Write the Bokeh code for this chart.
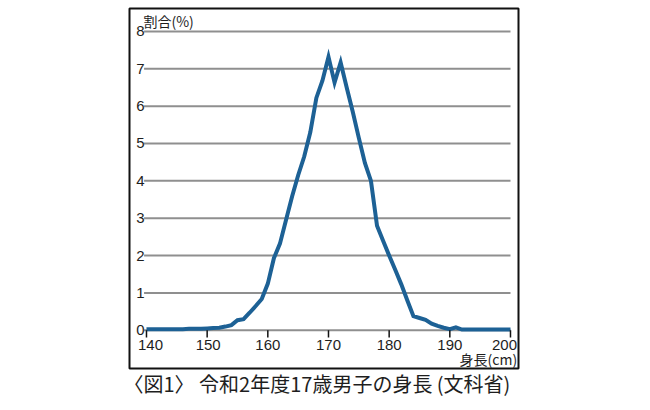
from bokeh.plotting import figure
from bokeh.models import Range1d
from bokeh.core.properties import value
from bokeh.embed import file_html
from bokeh.resources import INLINE

# data
heights = list(range(140, 201))
ratio = [0.03, 0.03, 0.03, 0.03, 0.03, 0.03, 0.03, 0.04, 0.04, 0.04,
         0.05, 0.06, 0.07, 0.10, 0.14, 0.27, 0.30, 0.47, 0.65, 0.84,
         1.25, 1.93, 2.32, 2.95, 3.58, 4.15, 4.65, 5.30, 6.22, 6.68,
         7.32, 6.63, 7.17, 6.50, 5.85, 5.15, 4.48, 4.00, 2.80, 2.40,
         2.00, 1.62, 1.23, 0.80, 0.38, 0.33, 0.28, 0.18, 0.12, 0.07,
         0.03, 0.08, 0.02, 0.02, 0.02, 0.02, 0.02, 0.02, 0.02, 0.02, 0.02]
x_ticks = [140, 150, 160, 170, 180, 190, 200]
y_ticks = [0, 1, 2, 3, 4, 5, 6, 7, 8]
title_text = "〈図1〉 令和2年度17歳男子の身長 (文科省)"
y_label = "割合(%)"
x_label = "身長(cm)"

JP = "Noto Sans CJK JP"
NUM = "Liberation Sans"
TXT = "#1e1e1e"

# frame = the outer black box; 6.067 px per cm, 37.36 px per %
p = figure(width=642, height=402, output_backend="svg", toolbar_location=None,
           x_range=Range1d(137.2, 201.32), y_range=Range1d(-1.022, 8.613),
           x_axis_location=None, y_axis_location=None,
           min_border_left=129, min_border_right=124, min_border_top=8,
           min_border_bottom=34)
p.background_fill_color = "white"
p.border_fill_color = "white"
p.outline_line_color = "#111111"
p.outline_line_width = 2
p.grid.visible = False

x0, x1 = x_ticks[0], x_ticks[-1]

# horizontal grid lines (with short tick stubs at the left)
p.segment(x0=[x0 - 0.4] * len(y_ticks), x1=[x1] * len(y_ticks),
          y0=y_ticks, y1=y_ticks, line_color="#8f8f8f", line_width=2)

# data line
p.line(heights, ratio, line_color="#1d6195", line_width=4, line_join="miter")

# x ticks
p.segment(x0=x_ticks, x1=x_ticks, y0=[0] * len(x_ticks),
          y1=[-0.19] * len(x_ticks), line_color="#111111", line_width=1.5)

# tick labels (end labels nudged inside the box)
x_nudge = [4, 1, 0, 0, 0, 0, -6]
p.text(x=x_ticks, y=[-0.27] * len(x_ticks), text=[str(t) for t in x_ticks],
       x_offset=x_nudge,
       text_font=value(NUM), text_font_size="15px", text_align="center",
       text_baseline="top", text_color=TXT)
p.text(x=[x0 - 0.3] * len(y_ticks), y=y_ticks, text=[str(t) for t in y_ticks],
       text_font=value(NUM), text_font_size="15px", text_align="right",
       text_baseline="middle", text_color=TXT)

# axis titles
p.text(x=[139.5], y=[8.29], text=[y_label], text_font=value(JP),
       text_font_size="14px", text_align="left", text_baseline="middle",
       text_color=TXT)
p.text(x=[201.1], y=[-0.76], text=[x_label], text_font=value(JP),
       text_font_size="14px", text_align="right", text_baseline="middle",
       text_color=TXT)

# chart title below the box
p.title.text = title_text
p.title_location = "below"
p.title.align = "left"
p.title.offset = -6
p.title.text_font = JP
p.title.text_font_size = "20px"
p.title.text_font_style = "normal"
p.title.text_color = TXT
p.title.standoff = -3

open("out.html", "w").write(file_html(p, INLINE))
